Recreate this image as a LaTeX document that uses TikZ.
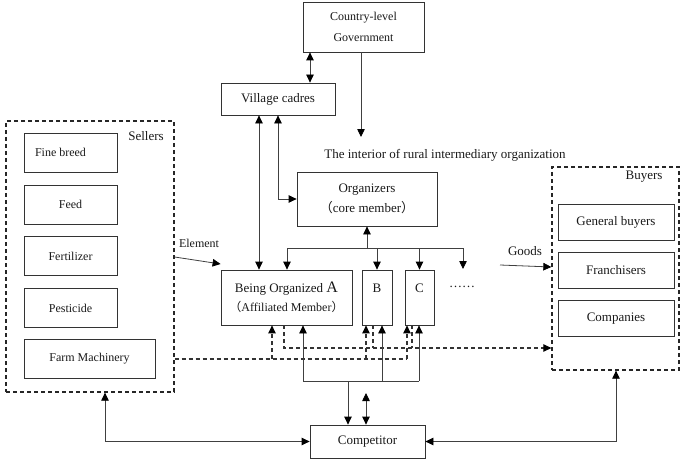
\documentclass[tikz,border=0pt]{standalone}
\usepackage{fontspec}
\setmainfont{Liberation Serif}
\newfontfamily\cjk{Noto Sans CJK SC}
\usetikzlibrary{arrows.meta}

\begin{document}
\begin{tikzpicture}[x=1pt, y=-1pt, >={Triangle[length=8pt,width=7.5pt,color=black]},
every node/.style={font=\fontsize{13}{15}\selectfont, text=black!90},
box/.style={draw=black!80, line width=0.8pt, inner sep=0pt, align=center},
group/.style={draw=black!85, line width=1.3pt, dash pattern=on 4pt off 3pt, inner sep=0pt},
item/.style={box, minimum width=93pt, minimum height=39pt, font=\fontsize{12}{14}\selectfont},
buy/.style={box, minimum width=116pt, minimum height=36pt},
member/.style={box, minimum height=55pt},
line/.style={draw=black!75, line width=0.8pt},
dsh/.style={draw=black!80, line width=1.1pt, dash pattern=on 4pt off 3pt}]
\useasboundingbox (0,0) rectangle (686,460);

% top
\node[box, minimum width=121pt, minimum height=50pt, font=\fontsize{12}{14}\selectfont] (gov) at (363.5,27) {Country-level\\[7pt]Government};
\node[box, minimum width=114pt, minimum height=32pt] (cadres) at (278,99) {Village cadres};
\node (interior) at (445,155) {The interior of rural intermediary organization};
\coordinate (intop) at (361,137);
\node[box, minimum width=140pt, minimum height=54pt] (org) at (367,199) {Organizers\\[5pt]{\cjk （}core member{\cjk ）}};

% members
\node[member, minimum width=131pt] (A) at (286.5,297.5) {Being Organized {\fontsize{16}{16}\selectfont A}\\[4pt]{\fontsize{12}{14}\selectfont{\cjk （}Affiliated Member{\cjk ）}}};
\node[member, minimum width=30pt] (B) at (377,297.5) {};
\node[member, minimum width=29pt] (C) at (419.5,297.5) {};
\node at (377,288) {B};
\node at (419.5,288) {C};
\node (dots) at (462,287) {……};
\coordinate (more) at (463,269);

% sellers
\node[group, minimum width=168pt, minimum height=271pt] (sellers) at (90,256.5) {};
\node at (146,136) {Sellers};
\node[item] (breed) at (70.5,152.5) {\hspace*{-20pt}Fine breed};
\node[item] (feed) at (70.5,204.5) {Feed};
\node[item] (fert) at (70.5,256) {Fertilizer};
\node[item] (pest) at (70.5,308) {Pesticide};
\node[item, minimum width=131pt] (fm) at (89.5,358.5) {Farm Machinery};

% buyers
\node[group, minimum width=127pt, minimum height=203pt] (buyers) at (615.5,268.5) {};
\node at (644,177) {Buyers};
\node[buy] (general) at (616,222) {General buyers};
\node[buy] (fran) at (616,270) {Franchisers};
\node[buy] (comp) at (616,318.5) {Companies};

\node[box, minimum width=115pt, minimum height=33pt] (rival) at (367.5,441.5) {Competitor};

% top links
\draw[line, <->] (310,0 |- gov.south) -- (310,0 |- cadres.north);
\draw[line, ->] (361,0 |- gov.south) -- (intop);
\draw[line, <->] (259,0 |- cadres.south) -- (259,0 |- A.north);
\draw[line, <->] (278,0 |- cadres.south) |- (org.west);

% organizers to members
\coordinate (busL) at (287,248);
\coordinate (bus) at (367,248);
\coordinate (busR) at (463,248);
\draw[line] (busL) -- (busR);
\draw[line, ->] (bus) -- (org.south);
\draw[line, ->] (busL) -- (busL |- A.north);
\draw[line, ->] (B.north |- bus) -- (B.north);
\draw[line, ->] (C.north |- bus) -- (C.north);
\draw[line, ->] (busR) -- (more);

% element and goods
\coordinate (goodsin) at (500,265);
\draw[line, ->] (sellers.east |- 0,257) -- (A.west |- 0,264);
\node[font=\fontsize{12}{14}\selectfont] at (199,243) {Element};
\draw[line, ->] (goodsin) -- (buyers.west |- 0,267);
\node at (525,251) {Goods};

% dashed flows
\draw[dsh] (sellers.east |- 0,359) -- (407,359);
\draw[dsh, ->] (272,359) -- (272,0 |- A.south);
\draw[dsh, ->] (366,359) -- (366,0 |- B.south);
\draw[dsh, ->] (407,359) -- (407,0 |- C.south);
\draw[dsh, ->] (284,0 |- A.south) -- (284,348) -- (buyers.west |- 0,348);
\draw[dsh] (373,0 |- B.south) -- (373,348);
\draw[dsh] (412,0 |- C.south) -- (412,348);

% competitor
\coordinate (botL) at (303,381);
\coordinate (botR) at (419,381);
\draw[line] (botL) -- (botR);
\draw[line, ->] (botL) -- (botL |- A.south);
\draw[line, ->] (382,381) -- (382,0 |- B.south);
\draw[line, ->] (botR) -- (botR |- C.south);
\draw[line, ->] (348,381) -- (348,0 |- rival.north);
\draw[line, <->] (366,393) -- (366,0 |- rival.north);
\draw[line, <->] (105,0 |- sellers.south) |- (rival.west);
\draw[line, <->] (616,0 |- buyers.south) |- (rival.east);
\end{tikzpicture}
\end{document}
